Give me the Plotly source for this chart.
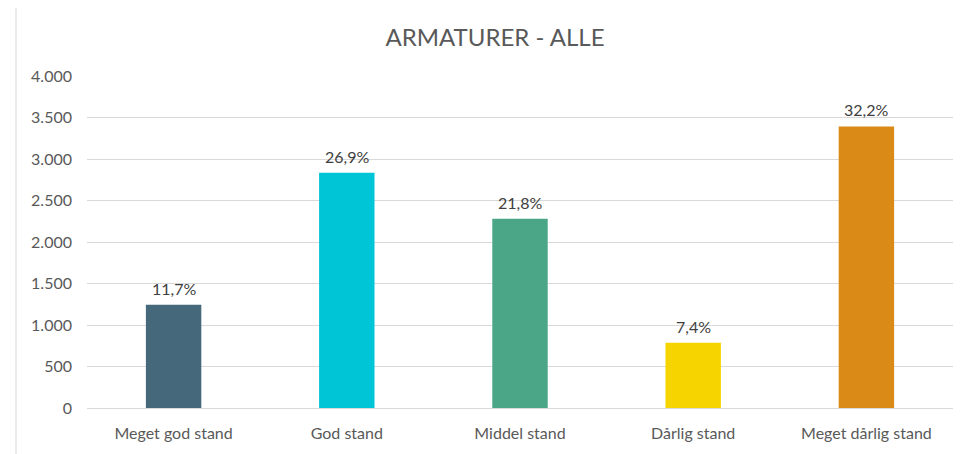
import plotly.graph_objects as go

categories = ["Meget god stand", "God stand", "Middel stand", "Dårlig stand", "Meget dårlig stand"]
values = [1245, 2835, 2281, 787, 3393]
pct_labels = ["11,7%", "26,9%", "21,8%", "7,4%", "32,2%"]
colors = ["#46687B", "#00C5D6", "#4BA587", "#F5D400", "#DA8A16"]
y_ticks = [0, 500, 1000, 1500, 2000, 2500, 3000, 3500, 4000]

FONT = "Lato, 'Open Sans', sans-serif"
W, H = 971, 446  # page body adds 8px offset

fig = go.Figure()
fig.add_trace(go.Bar(
    x=categories, y=values,
    marker=dict(color=colors, line=dict(width=0)),
    hoverinfo="skip",
))

for c, v, t in zip(categories, values, pct_labels):
    fig.add_annotation(x=c, y=v, text=t, showarrow=False, yanchor="bottom",
                       yshift=5, font=dict(family=FONT, size=16, color="#404040"))

fig.update_layout(
    width=W, height=H,
    paper_bgcolor="white", plot_bgcolor="white",
    margin=dict(l=79, r=26, t=68, b=46),
    bargap=0.68,
    separators=",.",
    showlegend=False,
    title=dict(text="ARMATURER - ALLE", x=(495 - 8) / W, xanchor="center", xref="container",
               y=1 - 30 / H, yanchor="middle",
               font=dict(family=FONT, size=24, color="#595959")),
    font=dict(family=FONT, size=16, color="#595959"),
    xaxis=dict(showgrid=False, showline=False, zeroline=False, ticks="",
               ticklabelstandoff=14, tickfont=dict(size=16, color="#595959")),
    yaxis=dict(range=[0, 4000], tickvals=y_ticks, tickformat=",d",
               showgrid=True, gridcolor="#D9D9D9", gridwidth=1,
               zeroline=True, zerolinecolor="#D9D9D9", zerolinewidth=1,
               showline=False, ticks="", ticklabelstandoff=14,
               tickfont=dict(size=16, color="#595959")),
    shapes=[dict(type="rect", xref="paper", yref="paper",
                 x0=(16 - 87) / 866, x1=(973 - 87) / 866,
                 y0=(408 - 470) / 332, y1=(408 - 4) / 332,
                 line=dict(color="#D9D9D9", width=1), fillcolor="rgba(0,0,0,0)",
                 layer="below")],
)

fig.write_html("out.html")
